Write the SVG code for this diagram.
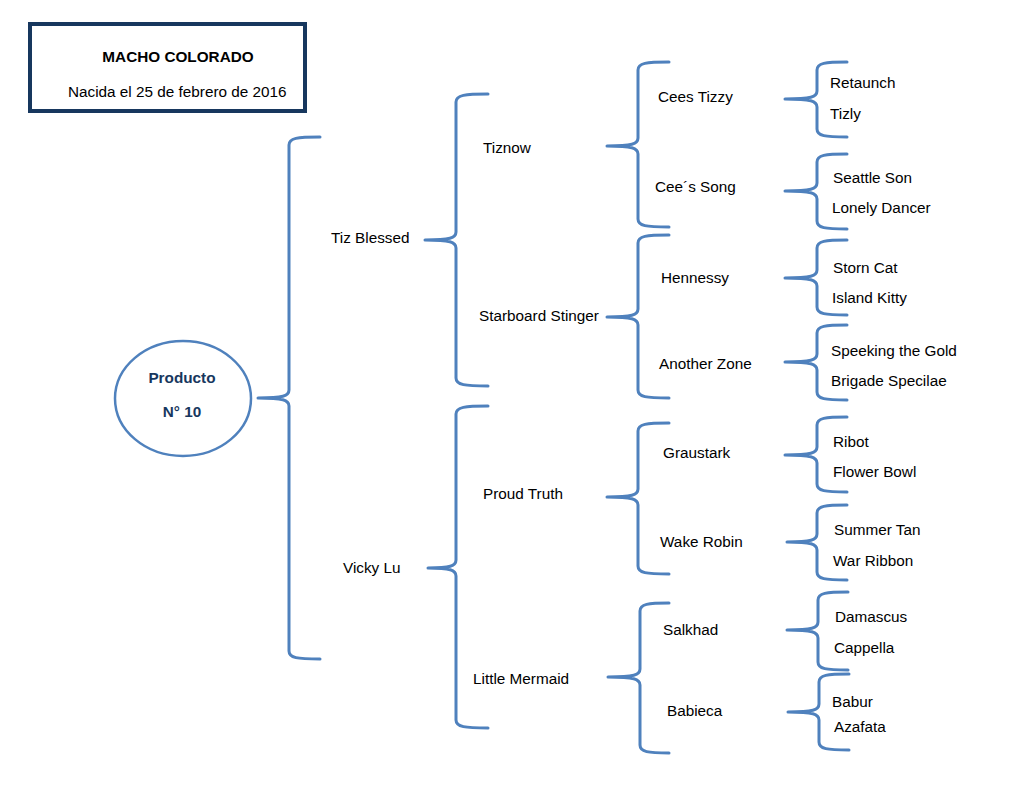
<svg xmlns="http://www.w3.org/2000/svg" width="1020" height="788" viewBox="0 0 1020 788">
<style>
.b{fill:none;stroke:#4f81bd;stroke-width:3;stroke-linecap:round;stroke-linejoin:round}
.t{font-family:"Liberation Sans",Arial,sans-serif;font-size:15.3px;fill:#000}
.h{font-family:"Liberation Sans",Arial,sans-serif;font-size:15.3px;font-weight:bold;fill:#000}
.p{font-family:"Liberation Sans",Arial,sans-serif;font-size:15.3px;font-weight:bold;fill:#17375e}
</style>
<rect width="1020" height="788" fill="#fff"/>
<g id="header">
<rect x="30" y="24" width="275" height="87" fill="#fff" stroke="#17375e" stroke-width="4"/>
<text class="h" x="178" y="62" text-anchor="middle">MACHO COLORADO</text>
<text class="t" x="68" y="97">Nacida el 25 de febrero de 2016</text>
</g>
<g id="producto">
<ellipse cx="183" cy="398.5" rx="68" ry="57.5" fill="#fff" stroke="#4f81bd" stroke-width="2.5"/>
<text class="p" x="182" y="383" text-anchor="middle">Producto</text>
<text class="p" x="182" y="417" text-anchor="middle">N° 10</text>
</g>
<g id="connectors">
<path class="b" d="M320,137 C297,137 289,138 289,145 V390 C289,396 283,398 258,398 C283,398 289,400 289,406 V651 C289,658 297,659 320,659"/>
<path class="b" d="M488,94 C465,94 456,95 456,102 V232 C456,238 450,240 425,240 C450,240 456,242 456,248 V378 C456,385 465,386 488,386"/>
<path class="b" d="M488,406 C465,406 456,407 456,414 V560 C456,566 450,568 428,568 C450,568 456,570 456,576 V720 C456,727 465,728 488,728"/>
<path class="b" d="M669,62 C646,62 638,63 638,70 V138 C638,144 632,146 607,146 C632,146 638,148 638,154 V219 C638,226 646,227 669,227"/>
<path class="b" d="M669,235 C646,235 638,236 638,243 V309 C638,315 632,317 607,317 C632,317 638,319 638,325 V390 C638,397 646,398 669,398"/>
<path class="b" d="M669,423 C646,423 638,424 638,431 V489 C638,495 632,497 607,497 C632,497 638,499 638,505 V566 C638,573 646,574 669,574"/>
<path class="b" d="M669,603 C648,603 640,604 640,611 V669 C640,675 634,677 608,677 C634,677 640,679 640,685 V745 C640,752 648,753 669,753"/>
<path class="b" d="M847,62 C825,62 817,63 817,70 V91 C817,97 811,99 785,99 C811,99 817,101 817,107 V129 C817,136 825,137 847,137"/>
<path class="b" d="M847,154 C825,154 817,155 817,162 V183 C817,189 811,191 785,191 C811,191 817,193 817,199 V221 C817,228 825,229 847,229"/>
<path class="b" d="M847,240 C825,240 817,241 817,248 V270 C817,276 811,278 785,278 C811,278 817,280 817,286 V307 C817,314 825,315 847,315"/>
<path class="b" d="M847,325 C825,325 817,326 817,333 V354 C817,360 811,362 785,362 C811,362 817,364 817,370 V392 C817,399 825,400 847,400"/>
<path class="b" d="M847,417 C825,417 817,418 817,425 V447 C817,453 811,455 785,455 C811,455 817,457 817,463 V484 C817,491 825,492 847,492"/>
<path class="b" d="M847,505 C825,505 817,506 817,513 V534 C817,540 811,542 787,542 C811,542 817,544 817,550 V572 C817,579 825,580 847,580"/>
<path class="b" d="M848,592 C826,592 818,593 818,600 V622 C818,628 812,630 787,630 C812,630 818,632 818,638 V662 C818,669 826,670 848,670"/>
<path class="b" d="M849,674 C827,674 819,675 819,682 V704 C819,710 813,712 788,712 C813,712 819,714 819,720 V742 C819,749 827,750 849,750"/>
</g>
<g id="n-tiz-blessed"><text class="t" x="331" y="243">Tiz Blessed</text></g>
<g id="n-vicky-lu"><text class="t" x="343" y="573">Vicky Lu</text></g>
<g id="n-tiznow"><text class="t" x="483" y="153">Tiznow</text></g>
<g id="n-starboard"><text class="t" x="479" y="321">Starboard Stinger</text></g>
<g id="n-proud-truth"><text class="t" x="483" y="499">Proud Truth</text></g>
<g id="n-little-mermaid"><text class="t" x="473" y="684">Little Mermaid</text></g>
<g id="n-cees-tizzy"><text class="t" x="658" y="102">Cees Tizzy</text></g>
<g id="n-cees-song"><text class="t" x="655" y="192">Cee´s Song</text></g>
<g id="n-hennessy"><text class="t" x="661" y="283">Hennessy</text></g>
<g id="n-another-zone"><text class="t" x="659" y="369">Another Zone</text></g>
<g id="n-graustark"><text class="t" x="663" y="458">Graustark</text></g>
<g id="n-wake-robin"><text class="t" x="660" y="547">Wake Robin</text></g>
<g id="n-salkhad"><text class="t" x="663" y="635">Salkhad</text></g>
<g id="n-babieca"><text class="t" x="667" y="716">Babieca</text></g>
<g id="n-retaunch"><text class="t" x="830" y="88">Retaunch</text></g>
<g id="n-tizly"><text class="t" x="830" y="119">Tizly</text></g>
<g id="n-seattle-son"><text class="t" x="833" y="183">Seattle Son</text></g>
<g id="n-lonely-dancer"><text class="t" x="832" y="213">Lonely Dancer</text></g>
<g id="n-storn-cat"><text class="t" x="833" y="273">Storn Cat</text></g>
<g id="n-island-kitty"><text class="t" x="832" y="303">Island Kitty</text></g>
<g id="n-speeking"><text class="t" x="831" y="356">Speeking the Gold</text></g>
<g id="n-brigade"><text class="t" x="831" y="386">Brigade Specilae</text></g>
<g id="n-ribot"><text class="t" x="833" y="447">Ribot</text></g>
<g id="n-flower-bowl"><text class="t" x="833" y="477">Flower Bowl</text></g>
<g id="n-summer-tan"><text class="t" x="834" y="535">Summer Tan</text></g>
<g id="n-war-ribbon"><text class="t" x="833" y="566">War Ribbon</text></g>
<g id="n-damascus"><text class="t" x="835" y="622">Damascus</text></g>
<g id="n-cappella"><text class="t" x="834" y="653">Cappella</text></g>
<g id="n-babur"><text class="t" x="832" y="707">Babur</text></g>
<g id="n-azafata"><text class="t" x="834" y="732">Azafata</text></g>
</svg>
